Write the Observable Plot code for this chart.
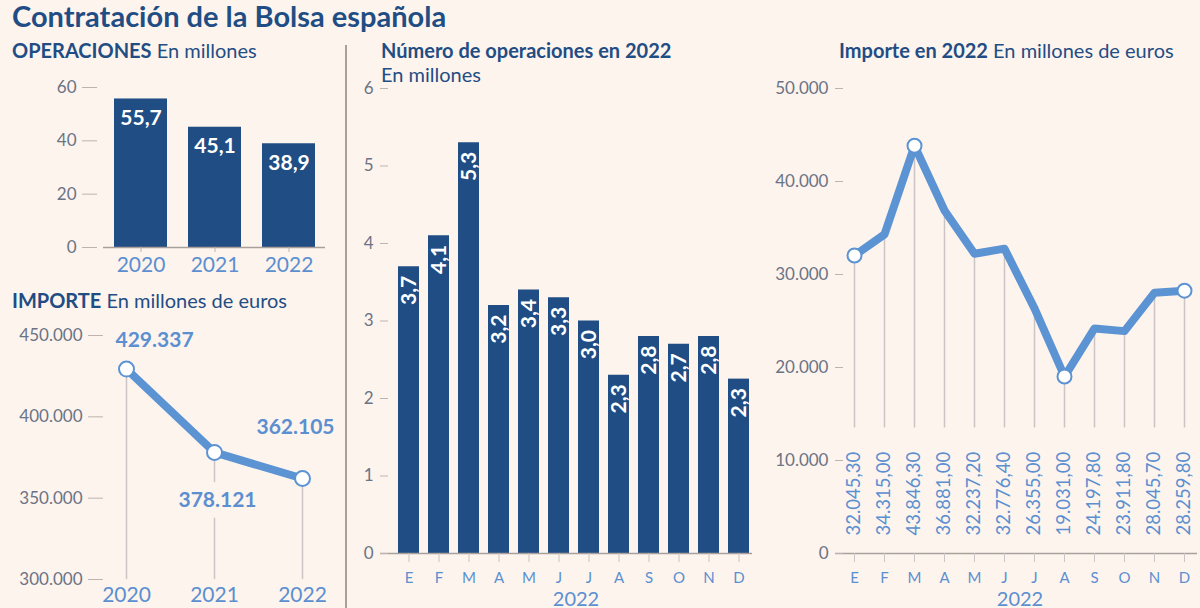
<!DOCTYPE html>
<html><head><meta charset="utf-8">
<script src="https://cdn.jsdelivr.net/npm/d3@7"></script>
<script src="https://cdn.jsdelivr.net/npm/@observablehq/plot@0.6"></script>
<style>
html,body{margin:0;padding:0;background:#fdf4ee;width:1200px;height:608px;overflow:hidden;font-family:Lato,sans-serif;}
.abs{position:absolute;white-space:nowrap;line-height:1;}
.title{left:12px;top:1px;font-size:29px;font-weight:700;color:#1f4d84;}
.sub{font-size:20px;color:#1f4d84;}
.sub b{font-weight:700;}
.year{font-size:20px;color:#5b8fd0;transform:translateX(-50%);}
#divider{left:345px;top:45px;width:1.5px;height:570px;background:#a9a09c;}
.plot{position:absolute;}
</style></head><body>
<div class="abs title">Contratación de la Bolsa española</div>
<div class="abs sub" style="left:12px;top:40px"><b>OPERACIONES</b> En millones</div>
<div class="abs sub" style="left:12px;top:290px"><b>IMPORTE</b> En millones de euros</div>
<div id="divider" class="abs"></div>
<div class="abs sub" style="left:381px;top:40px"><b>Número de operaciones en 2022</b></div>
<div class="abs sub" style="left:381px;top:64px">En millones</div>
<div class="abs sub" style="left:839px;top:40px"><b>Importe en 2022</b> En millones de euros</div>
<div class="abs year" style="left:576px;top:588px">2022</div>
<div class="abs year" style="left:1020px;top:588px">2022</div>
<div id="p1" class="plot" style="left:0;top:70px"></div>
<div id="p2" class="plot" style="left:0;top:310px"></div>
<div id="p3" class="plot" style="left:340px;top:70px"></div>
<div id="p4" class="plot" style="left:760px;top:70px"></div>
<script>
// ---- Data ----
const years = ["2020", "2021", "2022"];
const operacionesAnuales = [55.7, 45.1, 38.9];           // millones
const importeAnual = [429337, 378121, 362105];            // millones de euros
const meses = ["E", "F", "M", "A", "M", "J", "J", "A", "S", "O", "N", "D"];
const operacionesMensuales = [3.7, 4.1, 5.3, 3.2, 3.4, 3.3, 3.0, 2.3, 2.8, 2.7, 2.8, 2.25];
const importeMensual = [32045.3, 34315.0, 43846.3, 36881.0, 32237.2, 32776.4, 26355.0, 19031.0, 24197.8, 23911.8, 28045.7, 28259.8];
const ticksOps = [0, 20, 40, 60];
const ticksImp = [300000, 350000, 400000, 450000];
const ticksOpsMes = [0, 1, 2, 3, 4, 5, 6];
const ticksImpMes = [0, 10000, 20000, 30000, 40000, 50000];

// ---- Styles ----
const DARK = "#1f4d84", LIGHT = "#5b93d3", LIGHTTXT = "#5b8fd0", TICKTXT = "#6b7385";
const AXIS = "#a9a09c", RULE = "#cdc4c6", BG = "#fdf4ee";
const FONT = "Lato, sans-serif";
const style = {background: "transparent", overflow: "visible", fontFamily: FONT};

const es = d3.formatLocale({decimal: ",", thousands: ".", grouping: [3], currency: ["", " €"]});
const f1 = es.format(".1f"), fInt = es.format(",d"), f2 = es.format(",.2f");

const anual = years.map((y, i) => ({year: y, ops: operacionesAnuales[i], imp: importeAnual[i]}));
const mensual = meses.map((m, i) => ({i, mes: m, ops: operacionesMensuales[i], imp: importeMensual[i]}));

// ---- Panel 1: operaciones anuales ----
document.getElementById("p1").append(Plot.plot({
  width: 330, height: 210, marginTop: 17, marginBottom: 33, marginLeft: 103, marginRight: 5,
  style,
  x: {domain: years, paddingInner: 0.284, paddingOuter: 0.135, label: null},
  y: {domain: [0, 60], label: null},
  marks: [
    Plot.barY(anual, {x: "year", y: "ops", fill: DARK}),
    Plot.ruleY([0], {stroke: AXIS, strokeWidth: 1.5}),
    Plot.axisY({ticks: ticksOps, tickFormat: fInt, tickSize: 15, tickPadding: 6, dx: -6, fontSize: 17, fill: TICKTXT, stroke: "#bdb4b1", label: null}),
    Plot.axisX({tickSize: 5, tickPadding: 5, fontSize: 21, fill: LIGHTTXT, stroke: "#bdb4b1", label: null}),
    Plot.text(anual, {x: "year", y: "ops", text: d => f1(d.ops), dy: 19, fill: "white", fontWeight: "bold", fontSize: 21, lineAnchor: "middle"})
  ]
}));

// ---- Panel 2: importe anual ----
document.getElementById("p2").append(Plot.plot({
  width: 340, height: 310, marginTop: 25, marginBottom: 41, marginLeft: 126, marginRight: 38,
  style,
  x: {type: "point", domain: years, padding: 0, label: null},
  y: {domain: [300000, 450000], label: null},
  marks: [
    Plot.ruleX(anual, {x: "year", y1: "imp", y2: 300000, stroke: RULE, strokeWidth: 1.5}),
    Plot.line(anual, {x: "year", y: "imp", stroke: LIGHT, strokeWidth: 8, strokeLinejoin: "round"}),
    Plot.dot(anual, {x: "year", y: "imp", r: 7.5, fill: "white", stroke: LIGHT, strokeWidth: 2}),
    Plot.text(anual, {filter: (d, i) => i === 0, x: "year", y: "imp", text: d => fInt(d.imp), textAnchor: "start", dx: -11, dy: -29, fill: LIGHTTXT, fontWeight: "bold", fontSize: 21, lineAnchor: "middle"}),
    Plot.text(anual, {filter: (d, i) => i === 1, x: "year", y: "imp", text: d => fInt(d.imp), dx: 3, dy: 48, fill: LIGHTTXT, stroke: BG, strokeWidth: 22, paintOrder: "stroke", fontWeight: "bold", fontSize: 21, lineAnchor: "middle"}),
    Plot.text(anual, {filter: (d, i) => i === 2, x: "year", y: "imp", text: d => fInt(d.imp), dx: -7, dy: -51, fill: LIGHTTXT, fontWeight: "bold", fontSize: 21, lineAnchor: "middle"}),
    Plot.axisY({ticks: ticksImp, tickFormat: fInt, tickSize: 15, tickPadding: 6, dx: -23, fontSize: 17, fill: TICKTXT, stroke: "#bdb4b1", label: null}),
    Plot.axisX({tickSize: 0, tickPadding: 8, fontSize: 21, fill: LIGHTTXT, label: null})
  ]
}));

// ---- Panel 3: operaciones mensuales 2022 ----
document.getElementById("p3").append(Plot.plot({
  width: 420, height: 540, marginTop: 18, marginBottom: 57, marginLeft: 40, marginRight: 8,
  style,
  x: {type: "band", domain: d3.range(meses.length), paddingInner: 0.306, paddingOuter: 0.3, align: 0.83, label: null},
  y: {domain: [0, 6], label: null},
  marks: [
    Plot.barY(mensual, {x: "i", y: "ops", fill: DARK}),
    Plot.ruleY([0], {stroke: AXIS, strokeWidth: 1.5}),
    Plot.axisY({ticks: ticksOpsMes, tickFormat: fInt, tickSize: 8, tickPadding: 7, dx: 8, fontSize: 17, fill: TICKTXT, stroke: "#bdb4b1", label: null}),
    Plot.axisX({tickSize: 9, tickPadding: 10, tickFormat: i => meses[i], fontSize: 15, fill: LIGHTTXT, stroke: RULE, label: null}),
    Plot.text(mensual, {x: "i", y: "ops", text: d => f1(d.ops), rotate: -90, textAnchor: "end", dy: 9, fill: "white", fontWeight: "bold", fontSize: 21, lineAnchor: "middle"})
  ]
}));

// ---- Panel 4: importe mensual 2022 ----
const vmax = d3.max(importeMensual), vmin = d3.min(importeMensual);
const destacado = (d, i) => i === 0 || i === importeMensual.length - 1 || d.imp === vmax || d.imp === vmin;
document.getElementById("p4").append(Plot.plot({
  width: 440, height: 540, marginTop: 18, marginBottom: 57, marginLeft: 75, marginRight: 3,
  style,
  x: {type: "point", domain: d3.range(meses.length), padding: 0.48, align: 0.586, label: null},
  y: {domain: [0, 50000], label: null},
  marks: [
    Plot.ruleX(mensual, {x: "i", y1: "imp", y2: 13500, stroke: RULE, strokeWidth: 1.5}),
    Plot.line(mensual, {x: "i", y: "imp", stroke: LIGHT, strokeWidth: 8, strokeLinejoin: "round"}),
    Plot.dot(mensual, {filter: destacado, x: "i", y: "imp", r: 7, fill: "white", stroke: LIGHT, strokeWidth: 2}),
    Plot.text(mensual, {x: "i", frameAnchor: "bottom", text: d => f2(d.imp), rotate: -90, textAnchor: "start", dy: -18, fill: LIGHTTXT, fontSize: 18.5, lineAnchor: "middle"}),
    Plot.ruleY([0], {stroke: AXIS, strokeWidth: 1.5}),
    Plot.axisY({ticks: ticksImpMes, tickFormat: fInt, tickSize: 8, tickPadding: 7, dx: 8, fontSize: 17, fill: TICKTXT, stroke: "#bdb4b1", label: null}),
    Plot.axisX({tickSize: 9, tickPadding: 10, tickFormat: i => meses[i], fontSize: 15, fill: LIGHTTXT, stroke: RULE, label: null})
  ]
}));
</script>
</body></html>
